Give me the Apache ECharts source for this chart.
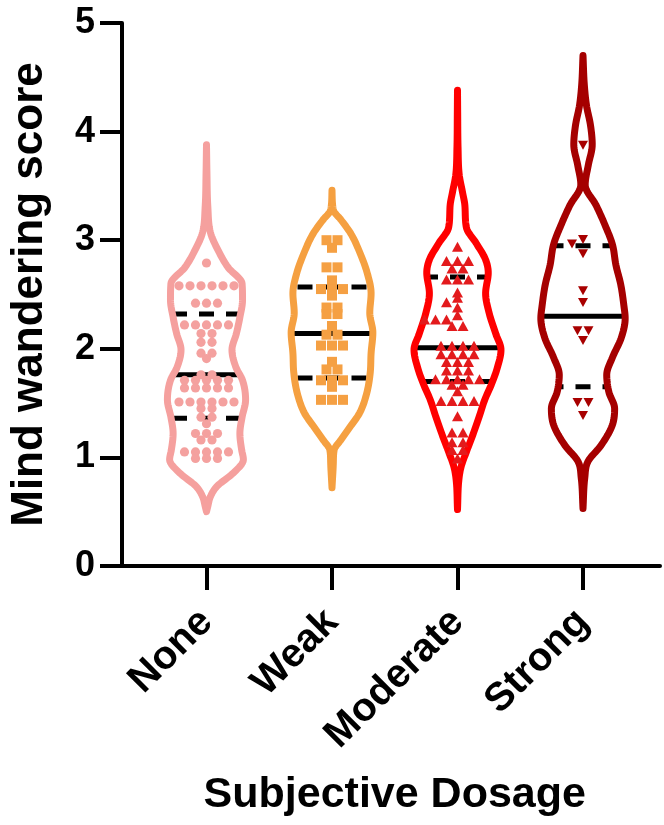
<!DOCTYPE html>
<html><head><meta charset="utf-8">
<script src="https://cdn.jsdelivr.net/npm/echarts@6/dist/echarts.min.js"></script>
<style>html,body{margin:0;padding:0;background:#fff}#c{width:664px;height:825px}</style>
</head><body><div id="c"></div>
<script>
// ---------- data ----------
const categories = ['None', 'Weak', 'Moderate', 'Strong'];
const medians = [1.76, 2.14, 2.01, 2.30];
const quartile1 = [1.36, 1.73, 1.70, 1.65];
const quartile3 = [2.32, 2.57, 2.66, 2.95];

// violin outlines: [score, relative density]
const profileNone = [[0.50,0],[0.55,0.03],[0.64,0.09],[0.73,0.23],[0.86,0.62],[0.98,0.84],[1.07,0.80],[1.22,0.76],[1.37,0.81],[1.53,0.89],[1.71,0.82],[1.83,0.67],[1.99,0.58],[2.14,0.68],[2.29,0.76],[2.45,0.82],[2.60,0.81],[2.75,0.49],[2.91,0.26],[3.07,0.09],[3.31,0.03],[3.62,0.01],[3.88,0]];
const profileWeak = [[0.72,0],[0.95,0.03],[1.07,0.05],[1.16,0.20],[1.28,0.41],[1.41,0.63],[1.59,0.79],[1.78,0.87],[1.96,0.89],[2.15,0.93],[2.33,0.86],[2.51,0.89],[2.70,0.80],[2.88,0.64],[3.06,0.43],[3.19,0.20],[3.28,0.03],[3.46,0]];
const profileModerate = [[0.52,0],[0.79,0.03],[0.91,0.08],[1.07,0.22],[1.22,0.36],[1.37,0.49],[1.53,0.62],[1.68,0.78],[1.83,0.91],[1.99,0.99],[2.14,0.87],[2.33,0.72],[2.51,0.64],[2.70,0.70],[2.82,0.64],[2.97,0.43],[3.12,0.20],[3.31,0.17],[3.45,0.11],[3.60,0.04],[3.86,0.012],[4.17,0.004],[4.38,0]];
const profileStrong = [[0.53,0],[0.81,0.04],[0.96,0.11],[1.11,0.41],[1.30,0.67],[1.45,0.72],[1.60,0.59],[1.76,0.54],[1.92,0.67],[2.10,0.87],[2.28,0.96],[2.40,0.93],[2.59,0.86],[2.77,0.75],[2.96,0.67],[3.14,0.50],[3.32,0.30],[3.51,0.05],[3.69,0.12],[3.88,0.21],[4.06,0.17],[4.24,0.08],[4.43,0.03],[4.70,0]];

// individual scores
const pointsNone = [2.79, 2.58,2.58,2.58,2.58,2.58,2.58, 2.42,2.42,2.42, 2.22,2.22,2.22,2.22,2.22, 2.14,2.14, 2.06,2.06, 1.96,1.96, 1.91, 1.76,1.76, 1.71,1.71,1.71,1.71,1.71, 1.64,1.64,1.64,1.64,1.64, 1.51,1.51,1.51,1.51,1.51,1.51, 1.45,1.45, 1.37,1.37, 1.31, 1.22,1.22,1.22, 1.16,1.16, 1.05,1.05,1.05,1.05,1.05, 0.99,0.99,0.99];
const pointsWeak = [3.00,3.00, 2.93, 2.75,2.75, 2.63, 2.55,2.55,2.55, 2.49, 2.38,2.38, 2.32,2.32, 2.21, 2.13,2.13, 2.03,2.03,2.03, 1.88, 1.81,1.81, 1.71,1.71,1.71, 1.65, 1.53,1.53,1.53];
const pointsModerate = [2.93, 2.80,2.80,2.80, 2.73,2.73, 2.63,2.63,2.63, 2.51, 2.46, 2.42, 2.37, 2.30, 2.26,2.26,2.26, 2.20,2.20, 2.02,2.02,2.02,2.02, 1.94,1.94,1.94,1.94, 1.87,1.87,1.87, 1.79,1.79,1.79, 1.71,1.71,1.71,1.71,1.71, 1.66,1.66, 1.60, 1.51,1.51,1.51,1.51, 1.37, 1.22,1.22, 1.13,1.13, 1.06,1.06, 0.98];
const pointsStrong = [3.88, 3.01, 2.97, 2.88, 2.54, 2.43, 2.17,2.17, 2.08, 1.51,1.51, 1.39];

// ---------- styles ----------
const FONT = "'Liberation Sans', Arial, Helvetica, sans-serif";
const outlineColors = ['#F5A09E', '#F5A041', '#FF0000', '#A50000'];
const markerColors = ['#F4A19F', '#F5A043', '#E31A1C', '#A80000'];
const markerKinds = ['circle', 'square', 'triangle', 'triangleDown'];
const MAX_HALF = 0.35;        // half-width of density 1, as a fraction of the category band
const OUTLINE_W = 7;
const SPACING = 11;            // horizontal spacing of scatter points (px)

const profiles = [profileNone, profileWeak, profileModerate, profileStrong];
const pointSets = [pointsNone, pointsWeak, pointsModerate, pointsStrong];

function makeInterp(prof) {
  const xs = prof.map(p => p[0]), ys = prof.map(p => p[1]);
  const n = xs.length, d = [], m = new Array(n);
  for (let i = 0; i < n - 1; i++) d.push((ys[i + 1] - ys[i]) / (xs[i + 1] - xs[i]));
  m[0] = d[0]; m[n - 1] = d[n - 2];
  for (let i = 1; i < n - 1; i++) m[i] = (d[i - 1] * d[i] <= 0) ? 0 : (d[i - 1] + d[i]) / 2;
  for (let i = 0; i < n - 1; i++) {
    if (d[i] === 0) { m[i] = 0; m[i + 1] = 0; continue; }
    const a = m[i] / d[i], b = m[i + 1] / d[i], s = a * a + b * b;
    if (s > 9) { const t = 3 / Math.sqrt(s); m[i] = t * a * d[i]; m[i + 1] = t * b * d[i]; }
  }
  return function (x) {
    if (x <= xs[0]) return ys[0];
    if (x >= xs[n - 1]) return ys[n - 1];
    let i = 0; while (x > xs[i + 1]) i++;
    const h = xs[i + 1] - xs[i], t = (x - xs[i]) / h;
    const t2 = t * t, t3 = t2 * t;
    return Math.max(0, (2*t3 - 3*t2 + 1) * ys[i] + (t3 - 2*t2 + t) * h * m[i] + (-2*t3 + 3*t2) * ys[i + 1] + (t3 - t2) * h * m[i + 1]);
  };
}
const interps = profiles.map(makeInterp);

function renderViolin(params, api) {
  const idx = api.value(0);
  const prof = profiles[idx], f = interps[idx];
  const band = api.size([1, 0])[0];
  const scale = band * MAX_HALF;
  const lo = prof[0][0], hi = prof[prof.length - 1][0];
  const N = 240, right = [], left = [];
  for (let k = 0; k <= N; k++) {
    const v = lo + (hi - lo) * k / N;
    const c = api.coord([idx, v]);
    right.push([c[0] + f(v) * scale, c[1]]);
  }
  for (let k = N; k >= 0; k--) {
    const v = lo + (hi - lo) * k / N;
    const c = api.coord([idx, v]);
    left.push([c[0] - f(v) * scale, c[1]]);
  }
  const children = [];
  function hline(v, dashed) {
    const c = api.coord([idx, v]);
    const w = f(v) * scale;
    const style = { stroke: '#000', lineWidth: 5, lineCap: 'butt' };
    if (dashed) {
      const dash = 15, gap = 12, per = dash + gap;
      style.lineDash = [dash, gap];
      style.lineDashOffset = (((7.5 - w) % per) + per) % per;
    }
    children.push({ type: 'line', shape: { x1: c[0] - w, y1: c[1], x2: c[0] + w, y2: c[1] }, style });
  }
  hline(quartile1[idx], true);
  hline(quartile3[idx], true);
  hline(medians[idx], false);
  children.push({
    type: 'polygon', shape: { points: right.concat(left) },
    style: { fill: 'transparent', stroke: outlineColors[idx], lineWidth: OUTLINE_W, lineJoin: 'round' }
  });
  return { type: 'group', children };
}

function renderPoints(params, api) {
  const idx = api.value(0);
  const vals = pointSets[idx].slice().sort((a, b) => b - a);
  const rows = [];
  vals.forEach(v => {
    const last = rows[rows.length - 1];
    if (last && last.v === v) last.n++; else rows.push({ v, n: 1 });
  });
  const placed = [];
  const children = [];
  const color = markerColors[idx], kind = markerKinds[idx];
  rows.forEach(r => {
    const c = api.coord([idx, r.v]);
    const shifts = [0, -0.5, 0.5, -1, 1, -1.5, 1.5, -2, 2, -2.5, 2.5, -3, 3];
    let xs = null;
    for (const sh of shifts) {
      const cand = [];
      for (let i = 0; i < r.n; i++) cand.push(c[0] + (i - (r.n - 1) / 2 + sh) * SPACING);
      const ok = cand.every(x => placed.every(p => !(Math.abs(p[0] - x) < SPACING * 0.95 && Math.abs(p[1] - c[1]) < 5)));
      if (ok) { xs = cand; break; }
    }
    if (!xs) { xs = []; for (let i = 0; i < r.n; i++) xs.push(c[0] + (i - (r.n - 1) / 2) * SPACING); }
    xs.forEach(x => {
      placed.push([x, c[1]]);
      const y = c[1];
      let el;
      if (kind === 'circle') el = { type: 'circle', shape: { cx: x, cy: y, r: 4.6 } };
      else if (kind === 'square') el = { type: 'rect', shape: { x: x - 5, y: y - 5, width: 10, height: 10 } };
      else if (kind === 'triangle') el = { type: 'polygon', shape: { points: [[x, y - 6], [x + 5.5, y + 4], [x - 5.5, y + 4]] } };
      else el = { type: 'polygon', shape: { points: [[x - 5, y - 4], [x + 5, y - 4], [x, y + 5]] } };
      el.style = { fill: color, stroke: null };
      children.push(el);
    });
  });
  return { type: 'group', children };
}

const chart = echarts.init(document.getElementById('c'), null, { renderer: 'canvas' });
const catData = categories.map((c, i) => [i, medians[i]]);
chart.setOption({
  animation: false,
  backgroundColor: '#fff',
  textStyle: { fontFamily: FONT },
  grid: [
    { left: 122, right: 4, top: 23, bottom: 259 },
    { left: 143.75, right: 18.25, top: 23, bottom: 259 }
  ],
  xAxis: [
    { gridIndex: 0, type: 'value', min: 0, max: 1,
      axisLine: { show: true, lineStyle: { color: '#000', width: 4 } },
      axisTick: { show: false }, axisLabel: { show: false }, splitLine: { show: false } },
    { gridIndex: 1, type: 'category', data: categories,
      axisLine: { show: false },
      axisTick: { show: true, alignWithLabel: true, length: 24, lineStyle: { color: '#000', width: 4 } },
      axisLabel: { rotate: 45, margin: 50, fontSize: 40, fontWeight: 'bold', color: '#000', fontFamily: FONT },
      splitLine: { show: false },
      name: 'Subjective Dosage', nameLocation: 'middle', nameGap: 208,
      nameTextStyle: { fontSize: 43, fontWeight: 'bold', color: '#000', fontFamily: FONT } }
  ],
  yAxis: [
    { gridIndex: 0, type: 'value', min: 0, max: 5, interval: 1,
      axisLine: { show: true, lineStyle: { color: '#000', width: 4 } },
      axisTick: { show: true, length: 22, lineStyle: { color: '#000', width: 4 } },
      axisLabel: { margin: 27, fontSize: 36, fontWeight: 'bold', color: '#000', fontFamily: FONT },
      splitLine: { show: false },
      name: 'Mind wandering score', nameLocation: 'middle', nameGap: 70,
      nameTextStyle: { fontSize: 44, fontWeight: 'bold', color: '#000', fontFamily: FONT } },
    { gridIndex: 1, type: 'value', min: 0, max: 5, show: false }
  ],
  series: [
    { type: 'custom', xAxisIndex: 1, yAxisIndex: 1, data: catData, encode: { x: 0, y: 1 }, renderItem: renderViolin, clip: false, z: 2 },
    { type: 'custom', xAxisIndex: 1, yAxisIndex: 1, data: catData, encode: { x: 0, y: 1 }, renderItem: renderPoints, clip: false, z: 3 }
  ]
});
</script>
</body></html>
